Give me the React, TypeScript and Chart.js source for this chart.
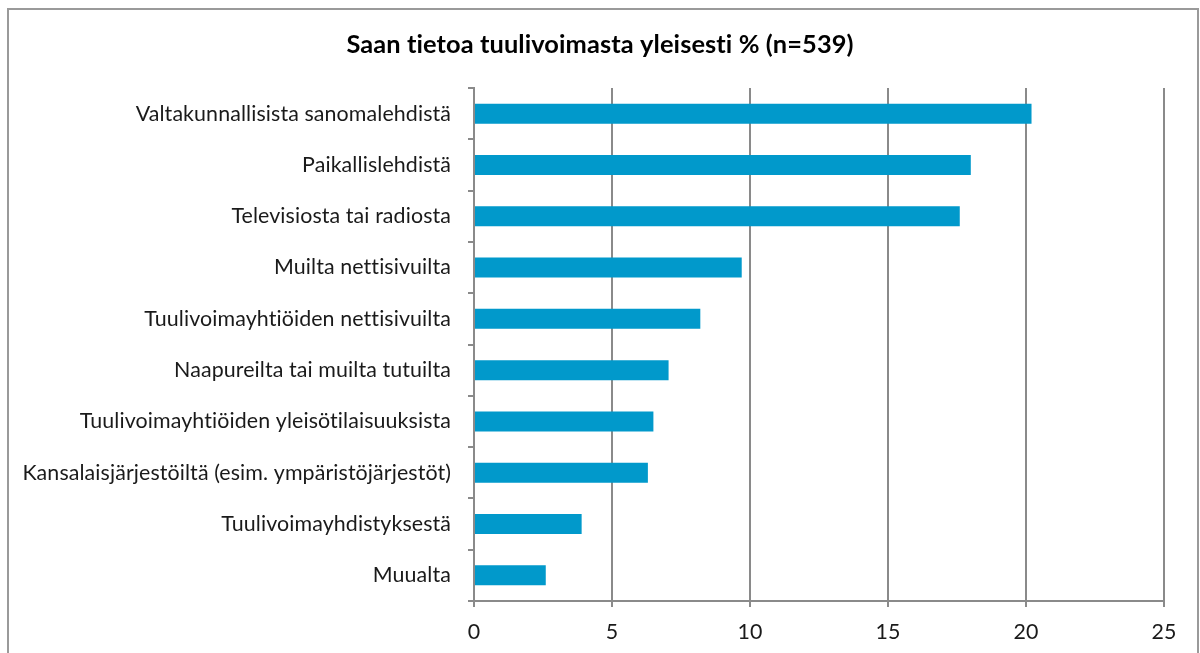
import React, { useEffect, useRef } from "react";
import { Chart, registerables } from "chart.js";

Chart.register(...registerables);

const categories = [
  "Valtakunnallisista sanomalehdistä",
  "Paikallislehdistä",
  "Televisiosta tai radiosta",
  "Muilta nettisivuilta",
  "Tuulivoimayhtiöiden nettisivuilta",
  "Naapureilta tai muilta tutuilta",
  "Tuulivoimayhtiöiden yleisötilaisuuksista",
  "Kansalaisjärjestöiltä (esim. ympäristöjärjestöt)",
  "Tuulivoimayhdistyksestä",
  "Muualta",
];
const values = [20.2, 18.0, 17.6, 9.7, 8.2, 7.05, 6.5, 6.3, 3.9, 2.6];
const xTicks = [0, 5, 10, 15, 20, 25];
const title = "Saan tietoa tuulivoimasta yleisesti % (n=539)";

const FONT = "Lato, 'Open Sans', sans-serif";

const framePlugin = {
  id: "frame",
  beforeInit(chart: any) {
    chart.ctx.letterSpacing = "0.1px";
  },
  beforeDraw(chart: any) {
    const ctx = chart.ctx;
    ctx.letterSpacing = "0.1px";
    ctx.save();
    ctx.fillStyle = "#ffffff";
    ctx.fillRect(0, 0, chart.width, chart.height);
    ctx.strokeStyle = "#9a9a9a";
    ctx.lineWidth = 2;
    ctx.strokeRect(8, 9, chart.width - 10, chart.height + 20);
    ctx.restore();
  },
  afterDraw(chart: any) {
    const ctx = chart.ctx;
    ctx.save();
    ctx.letterSpacing = "0.1px";
    ctx.fillStyle = "#000000";
    ctx.font = `bold 25.4px ${FONT}`;
    ctx.textAlign = "center";
    ctx.textBaseline = "middle";
    ctx.fillText(title, 600, 45);
    ctx.restore();
  },
};

export default function App() {
  const ref = useRef<HTMLCanvasElement>(null);
  useEffect(() => {
    document.body.style.margin = "0";
    const chart = new Chart(ref.current!, {
      type: "bar",
      data: {
        labels: categories,
        datasets: [
          {
            data: values,
            backgroundColor: "#0199CB",
            borderWidth: 0,
            barPercentage: 0.39,
            categoryPercentage: 1,
          },
        ],
      },
      options: {
        indexAxis: "y",
        responsive: false,
        animation: false,
        layout: { padding: { left: 0, right: 36, top: 88, bottom: 0 } },
        plugins: {
          legend: { display: false },
          tooltip: { enabled: false },
          title: { display: false },
        },
        scales: {
          x: {
            min: 0,
            max: 25,
            afterBuildTicks: (scale: any) => {
              scale.ticks = xTicks.map((v) => ({ value: v }));
            },
            afterFit: (scale: any) => {
              scale.height = 52;
            },
            grid: {
              color: "#8a8a8a",
              lineWidth: 2,
              drawTicks: true,
              tickLength: 6,
              tickColor: "#8a8a8a",
            },
            border: { display: true, color: "#8a8a8a", width: 2 },
            ticks: {
              color: "#1a1a1a",
              font: { family: FONT, size: 21.4 },
              padding: 12,
              maxRotation: 0,
            },
          },
          y: {
            afterFit: (scale: any) => {
              scale.width = 474;
            },
            grid: {
              drawOnChartArea: false,
              drawTicks: true,
              tickLength: 6,
              tickColor: "#8a8a8a",
              lineWidth: 2,
            },
            border: { display: true, color: "#8a8a8a", width: 2 },
            ticks: {
              color: "#1a1a1a",
              font: { family: FONT, size: 21.4 },
              padding: 17,
            },
          },
        },
      },
      plugins: [framePlugin],
    });
    return () => chart.destroy();
  }, []);
  return (
    <div style={{ position: "absolute", left: 0, top: 0, width: 1200, height: 653 }}>
      <canvas ref={ref} width={1200} height={653} style={{ display: "block" }} />
    </div>
  );
}
